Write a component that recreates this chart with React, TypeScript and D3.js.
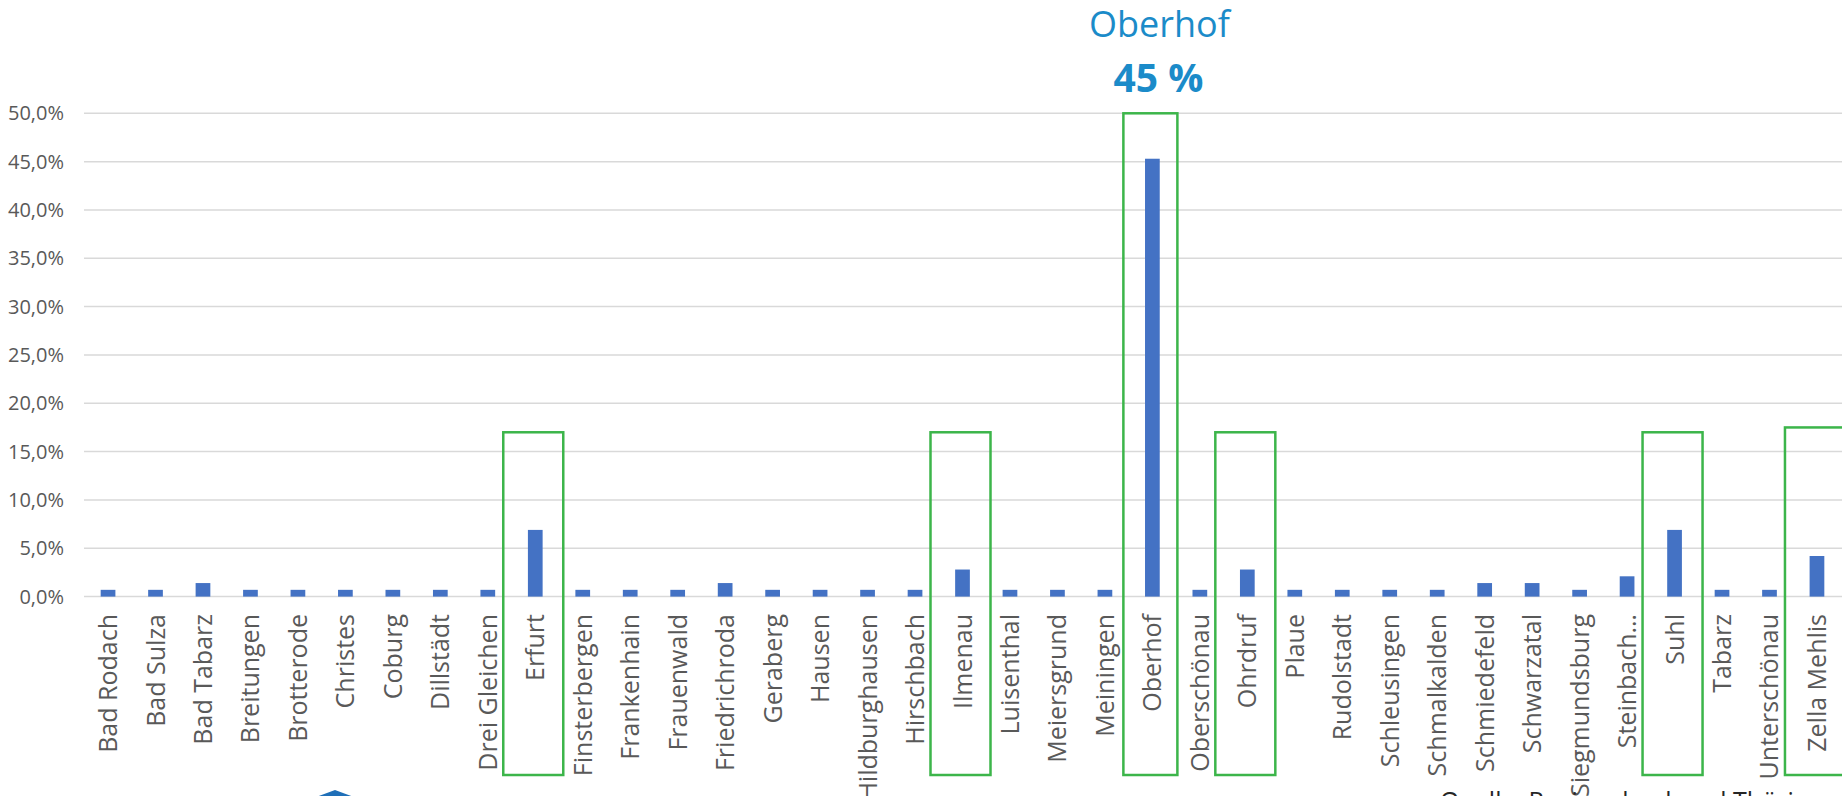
import * as d3 from "d3";

const categories = [
  "Bad Rodach", "Bad Sulza", "Bad Tabarz", "Breitungen", "Brotterode", "Christes", "Coburg",
  "Dillstädt", "Drei Gleichen", "Erfurt", "Finsterbergen", "Frankenhain", "Frauenwald",
  "Friedrichroda", "Geraberg", "Hausen", "Hildburghausen", "Hirschbach", "Ilmenau",
  "Luisenthal", "Meiersgrund", "Meiningen", "Oberhof", "Oberschönau", "Ohrdruf", "Plaue",
  "Rudolstadt", "Schleusingen", "Schmalkalden", "Schmiedefeld", "Schwarzatal",
  "Siegmundsburg", "Steinbach…", "Suhl", "Tabarz", "Unterschönau", "Zella Mehlis",
];

const shares = [
  0.007, 0.007, 0.014, 0.007, 0.007, 0.007, 0.007,
  0.007, 0.007, 0.069, 0.007, 0.007, 0.007,
  0.014, 0.007, 0.007, 0.007, 0.007, 0.028,
  0.007, 0.007, 0.007, 0.453, 0.007, 0.028, 0.007,
  0.007, 0.007, 0.007, 0.014, 0.014,
  0.007, 0.021, 0.069, 0.007, 0.007, 0.042,
];

const yTicks = [0, 0.05, 0.1, 0.15, 0.2, 0.25, 0.3, 0.35, 0.4, 0.45, 0.5];

// highlighted towns and the level the green frame reaches up to
const highlighted = ["Erfurt", "Ilmenau", "Oberhof", "Ohrdruf", "Suhl", "Zella Mehlis"];
const frameTops = [0.17, 0.17, 0.5, 0.17, 0.17, 0.175];

const calloutName = "Oberhof";
const calloutValue = "45 %";
const sourceText = "Quelle: Regionalverbund Thüringer Wald";

const W = 1842;
const H = 796;
const font = "'Open Sans', sans-serif";

const de = d3.formatLocale({ decimal: ",", thousands: ".", grouping: [3], currency: ["", " €"] });
const pct = de.format(".1%");

export default function App() {
  const x = d3
    .scaleBand<string>()
    .domain(categories)
    .range([84.3, 1840.7])
    .paddingInner(0.69)
    .paddingOuter(0.345);

  const y = d3.scaleLinear().domain([0, 0.5]).range([596.6, 113.3]);

  const cx = (c: string) => (x(c) as number) + x.bandwidth() / 2;

  return (
    <svg
      width={W}
      height={H}
      style={{ position: "absolute", left: 0, top: 0, background: "#fff" }}
      fontFamily={font}
    >
      {/* grid + y labels */}
      {yTicks.map((t) => (
        <g key={t}>
          <line x1={84} x2={W} y1={y(t)} y2={y(t)} stroke="#d9d9d9" strokeWidth={1.5} />
          <text x={64} y={y(t)} dy="0.35em" textAnchor="end" fontSize={20} fill="#595959">
            {pct(t)}
          </text>
        </g>
      ))}

      {/* bars */}
      {categories.map((c, i) => (
        <rect
          key={c}
          x={x(c)}
          y={y(shares[i])}
          width={x.bandwidth()}
          height={y(0) - y(shares[i])}
          fill="#4472c4"
        />
      ))}

      {/* category labels */}
      {categories.map((c) => (
        <text
          key={c}
          transform={`translate(${cx(c)},614) rotate(-90)`}
          dy="0.36em"
          textAnchor="end"
          fontSize={25}
          fill="#595959"
        >
          {c}
        </text>
      ))}

      {/* green frames */}
      {highlighted.map((c, i) => {
        const w = c === "Oberhof" ? 54 : 60;
        return (
          <rect
            key={c}
            x={cx(c) - 2 - w / 2}
            y={y(frameTops[i])}
            width={w}
            height={775 - y(frameTops[i])}
            fill="none"
            stroke="#3cb54a"
            strokeWidth={2.5}
          />
        );
      })}

      {/* callout */}
      <text x={cx(calloutName) + 7} y={37} textAnchor="middle" fontSize={36} fill="#1b8bc9">
        {calloutName}
      </text>
      <text
        x={cx(calloutName) + 6}
        y={92}
        textAnchor="middle"
        fontSize={39}
        fontWeight="bold"
        fill="#1b8bc9"
      >
        {calloutValue}
      </text>

      {/* logo peak, cut by the frame */}
      <polygon points="308,800 335,790 362,800" fill="#1f6fb8" />

      <text x={1440} y={810} fontSize={25} fill="#262626">
        {sourceText}
      </text>
    </svg>
  );
}
